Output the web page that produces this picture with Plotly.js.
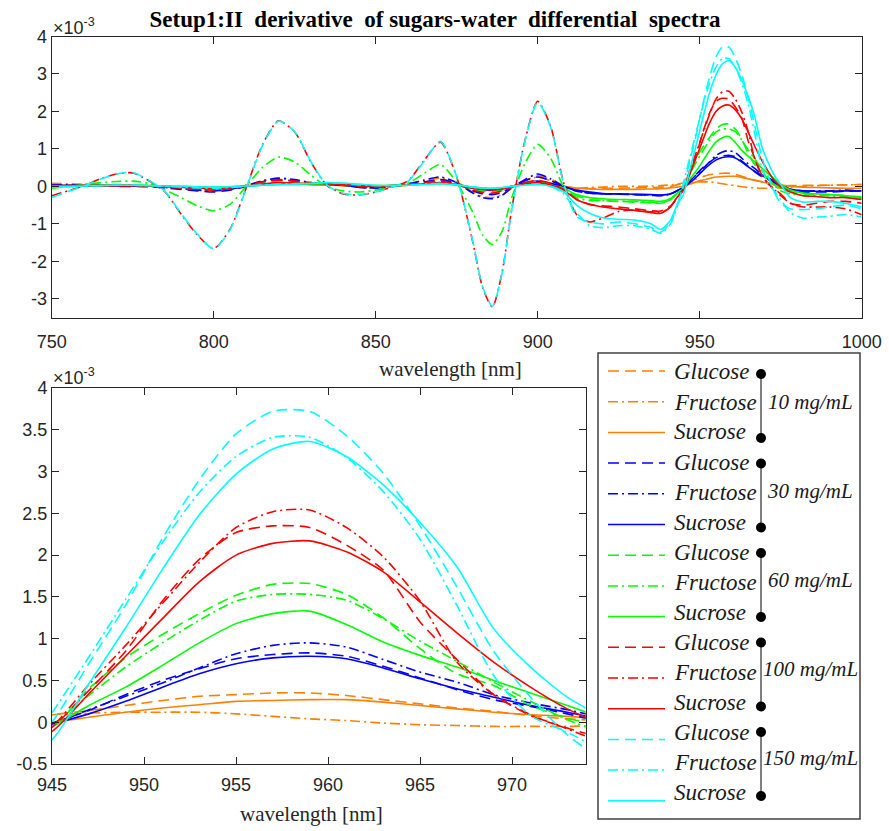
<!DOCTYPE html>
<html><head><meta charset="utf-8">
<script src="https://cdn.plot.ly/plotly-3.0.1.min.js"></script>
<style>html,body{margin:0;padding:0;background:#fff;} #chart{width:889px;height:831px;}</style>
</head><body><div id="chart"></div>
<script>
// wavelength grid [nm]
const wavelength = [
 750,755,760,765,770,775,780,785,790,795,800,805,810,815,820,825,830,835,840,845,850,855,860,865,870,
 875,880,883,886,889,892,896,900,904,908,912,916,920,925,930,935,938,941,943,
 945,947,949,951,953,955,957,959,961,963,965,967,969,971,973,975,
 978,982,986,990,995,1000];

// values in units of 1e-3
const g10 = [
 0.05,0.04,0.03,0.03,0.03,0.02,0.00,-0.03,-0.06,-0.08,-0.10,-0.08,0.00,0.12,0.18,0.15,0.08,0.05,0.02,-0.02,-0.03,0.00,0.05,0.12,0.18,
 0.10,-0.10,-0.18,-0.20,-0.15,-0.02,0.15,0.28,0.20,0.02,-0.05,-0.06,-0.05,-0.05,-0.04,-0.03,-0.02,0.00,0.04,
 0.09,0.14,0.20,0.26,0.31,0.33,0.35,0.35,0.32,0.27,0.22,0.17,0.13,0.08,0.04,0.02,
 0.02,0.03,0.03,0.03,0.04,0.05];
const f10 = [
 0.08,0.07,0.06,0.05,0.05,0.04,0.02,-0.02,-0.05,-0.08,-0.10,-0.07,0.02,0.14,0.20,0.16,0.08,0.06,0.03,-0.02,-0.03,0.00,0.06,0.15,0.22,
 0.10,-0.15,-0.27,-0.30,-0.22,-0.05,0.15,0.25,0.15,0.00,-0.05,-0.03,-0.02,0.00,0.00,0.01,0.02,0.04,0.06,
 0.09,0.11,0.12,0.12,0.12,0.10,0.07,0.04,0.02,-0.01,-0.03,-0.04,-0.05,-0.05,-0.05,-0.04,
 -0.02,0.00,0.02,0.03,0.04,0.05];
const s10 = [
 0.03,0.03,0.03,0.03,0.03,0.02,0.01,0.00,-0.02,-0.04,-0.05,-0.04,0.00,0.05,0.08,0.07,0.05,0.04,0.02,0.00,-0.01,0.00,0.03,0.06,0.08,
 0.04,-0.04,-0.07,-0.08,-0.06,0.00,0.08,0.12,0.08,0.00,-0.05,-0.07,-0.08,-0.08,-0.08,-0.07,-0.06,-0.04,-0.02,
 0.00,0.06,0.12,0.17,0.21,0.25,0.26,0.27,0.27,0.24,0.20,0.16,0.12,0.09,0.07,0.04,
 0.00,-0.02,-0.03,-0.04,-0.05,-0.05];
const g30 = [
 0.02,0.02,0.01,0.01,0.00,0.00,-0.01,-0.04,-0.08,-0.12,-0.15,-0.10,0.00,0.12,0.17,0.14,0.08,0.06,0.03,-0.03,-0.04,0.00,0.05,0.12,0.18,
 0.08,-0.12,-0.20,-0.22,-0.16,-0.02,0.15,0.25,0.15,0.00,-0.12,-0.18,-0.20,-0.21,-0.22,-0.24,-0.25,-0.20,-0.12,
 -0.01,0.14,0.33,0.50,0.64,0.76,0.81,0.83,0.79,0.67,0.53,0.39,0.27,0.19,0.10,0.00,
 -0.10,-0.15,-0.15,-0.15,-0.13,-0.12];
const f30 = [
 0.04,0.04,0.03,0.02,0.02,0.01,0.00,-0.03,-0.06,-0.10,-0.12,-0.08,0.02,0.15,0.22,0.18,0.10,0.06,0.03,-0.03,-0.04,0.00,0.07,0.17,0.25,
 0.10,-0.18,-0.30,-0.33,-0.24,-0.04,0.18,0.33,0.20,0.00,-0.13,-0.18,-0.20,-0.20,-0.22,-0.23,-0.24,-0.20,-0.12,
 -0.02,0.15,0.31,0.47,0.65,0.82,0.92,0.95,0.90,0.75,0.60,0.48,0.33,0.23,0.15,0.05,
 -0.08,-0.12,-0.12,-0.12,-0.10,-0.12];
const s30 = [
 0.02,0.02,0.02,0.02,0.02,0.02,0.01,0.00,-0.02,-0.04,-0.05,-0.04,0.00,0.05,0.08,0.07,0.05,0.05,0.04,0.02,0.01,0.02,0.04,0.07,0.09,
 0.05,-0.05,-0.09,-0.10,-0.07,0.00,0.09,0.14,0.08,0.00,-0.10,-0.15,-0.19,-0.20,-0.21,-0.22,-0.23,-0.20,-0.12,
 -0.02,0.10,0.25,0.42,0.58,0.70,0.77,0.79,0.76,0.65,0.52,0.40,0.30,0.20,0.12,0.03,
 -0.08,-0.12,-0.13,-0.13,-0.12,-0.12];
const g60 = [
 0.00,0.01,0.02,0.03,0.03,0.03,0.02,0.00,-0.03,-0.06,-0.08,-0.05,0.02,0.08,0.10,0.09,0.07,0.06,0.04,0.01,0.00,0.01,0.04,0.08,0.10,
 0.04,-0.08,-0.12,-0.13,-0.10,-0.02,0.08,0.12,0.05,-0.05,-0.25,-0.35,-0.38,-0.40,-0.42,-0.44,-0.45,-0.35,-0.20,
 -0.07,0.40,0.77,1.05,1.30,1.52,1.65,1.66,1.53,1.25,0.88,0.58,0.44,0.20,0.05,-0.05,
 -0.15,-0.20,-0.22,-0.22,-0.25,-0.30];
const f60 = [
 -0.05,0.00,0.05,0.10,0.13,0.14,0.08,-0.10,-0.30,-0.52,-0.65,-0.48,0.00,0.50,0.78,0.65,0.30,0.00,-0.12,-0.15,-0.10,0.00,0.08,0.35,0.58,
 0.10,-0.70,-1.30,-1.55,-1.20,-0.30,0.60,1.12,0.75,0.00,-0.30,-0.38,-0.38,-0.40,-0.40,-0.42,-0.45,-0.35,-0.20,
 -0.05,0.32,0.66,0.95,1.22,1.45,1.53,1.53,1.46,1.24,0.97,0.73,0.48,0.25,0.03,-0.12,
 -0.20,-0.25,-0.25,-0.25,-0.28,-0.32];
const s60 = [
 -0.02,0.00,0.01,0.02,0.03,0.03,0.02,0.01,0.00,-0.01,-0.02,-0.01,0.01,0.03,0.05,0.05,0.06,0.06,0.05,0.03,0.02,0.03,0.05,0.07,0.08,
 0.05,-0.02,-0.05,-0.06,-0.04,0.00,0.05,0.07,0.03,-0.05,-0.22,-0.30,-0.33,-0.35,-0.36,-0.38,-0.40,-0.32,-0.18,
 -0.05,0.20,0.42,0.68,0.95,1.18,1.30,1.33,1.17,0.96,0.80,0.66,0.50,0.35,0.20,0.05,
 -0.10,-0.18,-0.20,-0.22,-0.25,-0.28];
const g100 = [
 0.00,0.00,0.01,0.02,0.02,0.02,0.01,-0.02,-0.05,-0.08,-0.10,-0.06,0.02,0.12,0.16,0.14,0.10,0.08,0.04,0.00,-0.02,0.00,0.04,0.10,0.14,
 0.06,-0.10,-0.16,-0.18,-0.12,-0.02,0.10,0.16,0.08,-0.08,-0.35,-0.48,-0.52,-0.55,-0.60,-0.65,-0.66,-0.52,-0.30,
 -0.06,0.38,0.85,1.45,1.95,2.27,2.35,2.33,2.12,1.82,1.20,0.75,0.33,0.08,-0.07,-0.20,
 -0.45,-0.50,-0.45,-0.40,-0.40,-0.45];
const f100 = [
 -0.25,-0.12,0.02,0.20,0.33,0.36,0.15,-0.15,-0.75,-1.30,-1.66,-1.15,-0.05,1.10,1.75,1.45,0.65,0.02,-0.20,-0.23,-0.15,-0.02,0.15,0.70,1.18,
 0.25,-1.50,-2.70,-3.22,-2.30,-0.60,1.20,2.27,1.60,0.10,-0.75,-0.95,-0.85,-0.67,-0.63,-0.68,-0.70,-0.55,-0.30,
 -0.05,0.45,0.92,1.42,1.91,2.33,2.52,2.54,2.33,1.98,1.45,0.72,0.33,0.09,-0.08,-0.25,
 -0.45,-0.55,-0.55,-0.55,-0.60,-0.76];
const s100 = [
 0.02,0.02,0.02,0.02,0.02,0.02,0.01,0.00,-0.02,-0.04,-0.05,-0.03,0.01,0.06,0.10,0.09,0.08,0.07,0.05,0.02,0.01,0.02,0.04,0.07,0.10,
 0.04,-0.05,-0.08,-0.10,-0.07,0.00,0.07,0.10,0.04,-0.10,-0.35,-0.48,-0.55,-0.60,-0.64,-0.70,-0.72,-0.55,-0.30,
 -0.11,0.34,0.79,1.24,1.68,2.00,2.14,2.17,2.04,1.80,1.44,1.07,0.72,0.42,0.16,-0.02,
 -0.15,-0.25,-0.27,-0.30,-0.30,-0.35];
const g150 = [
 -0.30,-0.14,0.01,0.19,0.33,0.37,0.16,-0.14,-0.73,-1.28,-1.67,-1.17,-0.06,1.08,1.74,1.46,0.66,0.03,-0.19,-0.22,-0.15,-0.02,0.14,0.68,1.20,
 0.26,-1.48,-2.68,-3.20,-2.32,-0.62,1.18,2.25,1.58,0.08,-0.80,-0.95,-1.00,-0.95,-1.00,-1.10,-1.22,-0.95,-0.50,
 0.00,0.70,1.40,2.20,2.90,3.45,3.72,3.72,3.43,2.98,2.35,1.62,0.85,0.30,-0.15,-0.45,
 -0.60,-0.62,-0.60,-0.55,-0.50,-0.60];
const f150 = [
 -0.02,-0.01,0.00,0.02,0.03,0.03,0.02,0.00,-0.02,-0.04,-0.05,-0.03,0.00,0.04,0.06,0.07,0.08,0.10,0.08,0.04,0.02,0.02,0.04,0.06,0.08,
 0.04,-0.02,-0.04,-0.05,-0.03,0.00,0.04,0.06,0.00,-0.20,-0.70,-1.05,-1.10,-1.05,-1.05,-1.15,-1.25,-1.00,-0.55,
 0.11,0.78,1.47,2.15,2.75,3.18,3.41,3.41,3.17,2.76,2.19,1.40,0.56,0.08,-0.12,-0.35,
 -0.70,-0.85,-0.82,-0.80,-0.75,-0.82];
const s150 = [
 0.00,0.00,0.01,0.02,0.03,0.03,0.02,0.01,0.00,-0.01,-0.02,-0.01,0.01,0.03,0.05,0.06,0.08,0.10,0.09,0.06,0.03,0.02,0.03,0.05,0.07,
 0.04,-0.02,-0.04,-0.05,-0.03,0.00,0.03,0.05,0.00,-0.15,-0.50,-0.72,-0.84,-0.88,-0.90,-1.00,-1.15,-0.90,-0.50,
 -0.21,0.46,1.13,1.83,2.48,2.97,3.27,3.36,3.18,2.84,2.39,1.86,1.12,0.66,0.30,0.05,
 -0.30,-0.42,-0.40,-0.40,-0.45,-0.55];

const concentrations = ['10 mg/mL','30 mg/mL','60 mg/mL','100 mg/mL','150 mg/mL'];
const sugars = ['Glucose','Fructose','Sucrose'];
const seriesData = [[g10,f10,s10],[g30,f30,s30],[g60,f60,s60],[g100,f100,s100],[g150,f150,s150]];
const topYTicks = [-3,-2,-1,0,1,2,3,4];
const topYText = ['-3','-2','-1','0','1','2','3','4'];
const botYTicks = [-0.5,0,0.5,1,1.5,2,2.5,3,3.5,4];
const botYText = ['-0.5','0','0.5','1','1.5','2','2.5','3','3.5','4'];

// styles
const colors = ['#ff8000','#0000ff','#00ff00','#ff0000','#00ffff'];
const dashes = ['11px,6px','10px,4px,2px,4px','solid'];
const W = 889, H = 831;
const px = x => x / W, py = y => 1 - y / H;

const traces = [];
seriesData.forEach((grp, gi) => grp.forEach((arr, si) => {
  const line = {color: colors[gi], width: 1.6, dash: dashes[si], shape: 'spline', smoothing: 0.7};
  traces.push({x: wavelength, y: arr, xaxis: 'x', yaxis: 'y', mode: 'lines', line: line, hoverinfo: 'skip'});
  traces.push({x: wavelength, y: arr, xaxis: 'x2', yaxis: 'y2', mode: 'lines', line: line, hoverinfo: 'skip'});
}));

const axBase = {showline: true, linecolor: '#262626', linewidth: 1, mirror: 'ticks', ticks: 'inside',
  ticklen: 7, tickcolor: '#262626', tickwidth: 1, showgrid: false, zeroline: false, fixedrange: true,
  tickfont: {family: 'Liberation Sans, Arial, sans-serif', size: 18, color: '#262626'}};

const serif = 'Liberation Serif, Times New Roman, serif';
const sans = 'Liberation Sans, Arial, sans-serif';
const annotations = [
  {text: '×10<sup>-3</sup>', x: px(51), y: py(26), xref: 'paper', yref: 'paper', xanchor: 'left', yanchor: 'middle', showarrow: false,
   font: {family: sans, size: 18, color: '#262626'}},
  {text: '×10<sup>-3</sup>', x: px(51), y: py(377), xref: 'paper', yref: 'paper', xanchor: 'left', yanchor: 'middle', showarrow: false,
   font: {family: sans, size: 18, color: '#262626'}},
  {text: 'wavelength [nm]', x: px(450), y: py(369), xref: 'paper', yref: 'paper', xanchor: 'center', yanchor: 'middle', showarrow: false,
   font: {family: serif, size: 21, color: '#262626'}},
  {text: 'wavelength [nm]', x: px(311), y: py(814), xref: 'paper', yref: 'paper', xanchor: 'center', yanchor: 'middle', showarrow: false,
   font: {family: serif, size: 21, color: '#262626'}}
];
const shapes = [
  {type: 'rect', xref: 'paper', yref: 'paper', x0: px(598), x1: px(860), y0: py(819), y1: py(353),
   line: {color: '#404040', width: 1.5}, fillcolor: 'rgba(0,0,0,0)'}
];
concentrations.forEach((c, gi) => {
  sugars.forEach((s, si) => {
    const r = gi * 3 + si;
    const yl = 371 + 30.7 * r;
    const yt = 372 + 30 * r;
    shapes.push({type: 'line', xref: 'paper', yref: 'paper', x0: px(608), x1: px(665), y0: py(yl), y1: py(yl),
      line: {color: colors[gi], width: 1.5, dash: dashes[si]}});
    annotations.push({text: '<i>' + s + '</i>', x: px(672), y: py(yt), xref: 'paper', yref: 'paper', xanchor: 'left', yanchor: 'middle',
      showarrow: false, font: {family: serif, size: 23, color: '#1a1a1a'}});
  });
  const d0 = 374 + 89.5 * gi, d1 = d0 + 64;
  shapes.push({type: 'line', xref: 'paper', yref: 'paper', x0: px(761), x1: px(761), y0: py(d0), y1: py(d1), line: {color: '#000', width: 1}});
  [d0, d1].forEach(d => shapes.push({type: 'circle', xref: 'paper', yref: 'paper', x0: px(756), x1: px(766), y0: py(d + 5), y1: py(d - 5),
    fillcolor: '#000', line: {color: '#000', width: 0}}));
  annotations.push({text: '<i>' + c + '</i>', x: px(810), y: py(402 + 89 * gi), xref: 'paper', yref: 'paper', xanchor: 'center', yanchor: 'middle',
    showarrow: false, font: {family: serif, size: 21, color: '#1a1a1a'}});
});

const layout = {
  width: W, height: H, margin: {l: 0, r: 0, t: 0, b: 0}, paper_bgcolor: '#fff', plot_bgcolor: '#fff', showlegend: false,
  title: {text: '<b>Setup1:II \u00a0derivative \u00a0of sugars-water \u00a0differential \u00a0spectra</b>', x: px(435), xanchor: 'center', xref: 'paper',
    y: py(19), yanchor: 'middle', yref: 'paper', font: {family: serif, size: 23, color: '#000'}},
  xaxis: Object.assign({}, axBase, {domain: [px(51.7), px(861.7)], range: [750, 1000], tickmode: 'linear', tick0: 750, dtick: 50, anchor: 'y', ticklabelstandoff: 8}),
  yaxis: Object.assign({}, axBase, {domain: [py(317.5), py(36.5)], range: [-3.5, 4], tickmode: 'array', tickvals: topYTicks, ticktext: topYText, anchor: 'x'}),
  xaxis2: Object.assign({}, axBase, {domain: [px(52), px(585.7)], range: [945, 974], tickmode: 'linear', tick0: 945, dtick: 5, anchor: 'y2', ticklabelstandoff: 4}),
  yaxis2: Object.assign({}, axBase, {domain: [py(764), py(388)], range: [-0.5, 4], tickmode: 'array', tickvals: botYTicks, ticktext: botYText, anchor: 'x2'}),
  annotations: annotations, shapes: shapes
};
Plotly.newPlot('chart', traces, layout, {staticPlot: true, displayModeBar: false});
</script></body></html>
